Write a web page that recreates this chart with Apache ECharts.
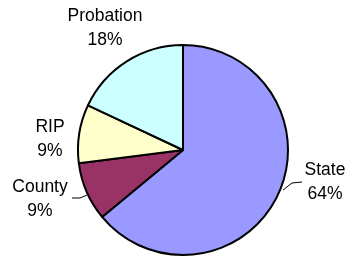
<!DOCTYPE html>
<html>
<head>
<meta charset="utf-8">
<script src="https://cdn.jsdelivr.net/npm/echarts@6/dist/echarts.min.js"></script>
<style>
  html, body { margin: 0; padding: 0; background: #fff; }
  #chart { width: 352px; height: 256px; }
</style>
</head>
<body>
<div id="chart"></div>
<script>
// 数据
const categories = ["State", "County", "RIP", "Probation"];
const shares = [64, 9, 9, 18];
const colors = ["#9999FF", "#993366", "#FFFFCC", "#CCFFFF"];

// 标签位置（与数据分开）
const labelPos = [
  { x: 325, y: 182, line: [[283, 190], [292, 183], [302, 182]] },
  { x: 40, y: 199, line: [[87, 195], [80, 198], [72, 198]] },
  { x: 50, y: 139, line: null },
  { x: 105, y: 28, line: null },
];

const chart = echarts.init(document.getElementById("chart"));

const option = {
  animation: false,
  series: [
    {
      type: "pie",
      center: [183, 150],
      radius: 105,
      startAngle: 90,
      clockwise: true,
      data: categories.map((name, i) => ({
        name: name,
        value: shares[i],
        itemStyle: { color: colors[i] },
        labelLine: { show: !!labelPos[i].line },
      })),
      itemStyle: {
        borderColor: "#000",
        borderWidth: 2,
      },
      label: {
        show: true,
        position: "outside",
        formatter: "{b}\n{c}%",
        fontFamily: "Liberation Sans, Arial, sans-serif",
        fontSize: 17.5,
        lineHeight: 24,
        color: "#000",
        align: "center",
        overflow: "none",
        edgeDistance: 0,
      },
      labelLine: {
        lineStyle: { color: "#000", width: 1 },
      },
      labelLayout: (params) => {
        const p = labelPos[params.dataIndex];
        const res = { x: p.x, y: p.y, align: "center", verticalAlign: "middle" };
        if (p.line) res.labelLinePoints = p.line;
        return res;
      },
      emphasis: { disabled: true },
    },
  ],
};

chart.setOption(option);
window.addEventListener("resize", () => chart.resize());
</script>
</body>
</html>
